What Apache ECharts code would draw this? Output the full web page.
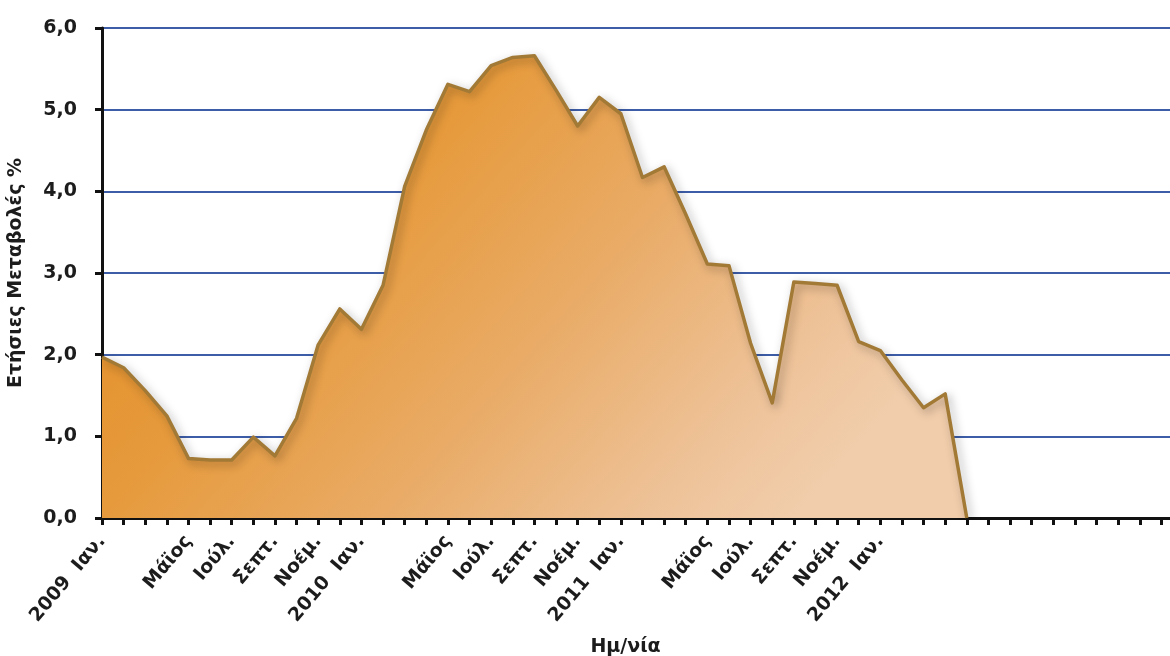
<!DOCTYPE html>
<html>
<head>
<meta charset="utf-8">
<title>Ετήσιες Μεταβολές %</title>
<script src="https://cdn.jsdelivr.net/npm/echarts@6/dist/echarts.min.js"></script>
<style>
  html, body { margin: 0; padding: 0; background: #ffffff; }
  #chart { width: 1170px; height: 656px; }
</style>
</head>
<body>
<div id="chart"></div>
<script>
// Monthly categories, January 2009 onwards
const months = [
  '2009-01','2009-02','2009-03','2009-04','2009-05','2009-06','2009-07','2009-08','2009-09','2009-10','2009-11','2009-12',
  '2010-01','2010-02','2010-03','2010-04','2010-05','2010-06','2010-07','2010-08','2010-09','2010-10','2010-11','2010-12',
  '2011-01','2011-02','2011-03','2011-04','2011-05','2011-06','2011-07','2011-08','2011-09','2011-10','2011-11','2011-12',
  '2012-01','2012-02','2012-03','2012-04','2012-05','2012-06','2012-07','2012-08','2012-09','2012-10','2012-11','2012-12',
  '2013-01','2013-02','2013-03'
];

// Text shown under selected months
const tickLabels = {
  '2009-01': '2009  Ιαν.', '2009-05': 'Μάϊος', '2009-07': 'Ιούλ.', '2009-09': 'Σεπτ.', '2009-11': 'Νοέμ.',
  '2010-01': '2010  Ιαν.', '2010-05': 'Μάϊος', '2010-07': 'Ιούλ.', '2010-09': 'Σεπτ.', '2010-11': 'Νοέμ.',
  '2011-01': '2011  Ιαν.', '2011-05': 'Μάϊος', '2011-07': 'Ιούλ.', '2011-09': 'Σεπτ.', '2011-11': 'Νοέμ.',
  '2012-01': '2012  Ιαν.'
};

// Annual change, %
const annualChange = [
  1.97, 1.84, 1.56, 1.25, 0.73, 0.71, 0.71, 0.99, 0.76, 1.22, 2.12, 2.56,
  2.31, 2.85, 4.06, 4.75, 5.31, 5.22, 5.54, 5.64, 5.66, 5.24, 4.80, 5.15,
  4.95, 4.17, 4.30, 3.72, 3.11, 3.09, 2.14, 1.41, 2.89, 2.87, 2.85, 2.16,
  2.05, 1.69, 1.35, 1.52, 0.00
];

const yTicks = [0, 1, 2, 3, 4, 5, 6];

const FONT = 'DejaVu Sans';
const INK = '#1c1c1c';

const chart = echarts.init(document.getElementById('chart'), null, { renderer: 'canvas' });

chart.setOption({
  backgroundColor: '#ffffff',
  animation: false,
  grid: {
    left: 102,
    top: 28,
    width: 1081,
    height: 490,
    containLabel: false,
    outerBoundsMode: 'none'
  },
  xAxis: {
    type: 'category',
    data: months,
    boundaryGap: false,
    name: 'Ημ/νία',
    nameLocation: 'middle',
    nameGap: 120,
    nameTextStyle: {
      fontFamily: FONT, fontWeight: 'bold', fontSize: 19, color: INK,
      padding: [0, 34, 0, 0]
    },
    axisLine: { show: true, lineStyle: { color: '#111', width: 3 } },
    axisTick: {
      show: true, interval: 0, inside: false, length: 7,
      alignWithLabel: true,
      lineStyle: { color: '#111', width: 3 }
    },
    axisLabel: {
      interval: 0,
      rotate: 50,
      margin: 20,
      fontFamily: FONT, fontWeight: 'bold', fontSize: 19, color: INK,
      formatter: v => tickLabels[v] || ''
    },
    splitLine: { show: false }
  },
  yAxis: {
    type: 'value',
    min: 0,
    max: 6,
    interval: 1,
    name: 'Ετήσιες Μεταβολές %',
    nameLocation: 'middle',
    nameGap: 76,
    nameRotate: 90,
    nameTextStyle: { fontFamily: FONT, fontWeight: 'bold', fontSize: 19, color: INK },
    axisLine: { show: true, lineStyle: { color: '#111', width: 3 } },
    axisTick: { show: true, length: 7, lineStyle: { color: '#111', width: 3 } },
    axisLabel: {
      margin: 25,
      fontFamily: FONT, fontWeight: 'bold', fontSize: 19, color: INK,
      formatter: v => yTicks.includes(v) ? v.toFixed(1).replace('.', ',') : ''
    },
    splitLine: { show: true, lineStyle: { color: '#3d5da8', width: 2 } }
  },
  series: [{
    type: 'line',
    data: annualChange,
    symbol: 'none',
    smooth: false,
    z: 3,
    lineStyle: {
      color: '#a27a36',
      width: 3.5,
      join: 'round',
      shadowColor: 'rgba(0,0,0,0.35)',
      shadowBlur: 10,
      shadowOffsetX: 3,
      shadowOffsetY: 3
    },
    areaStyle: {
      opacity: 1,
      color: new echarts.graphic.LinearGradient(0.2, 0, 0.8, 1, [
        { offset: 0.0, color: '#e4902a' },
        { offset: 0.25, color: '#e69a3c' },
        { offset: 0.55, color: '#e9ab66' },
        { offset: 0.85, color: '#eec39a' },
        { offset: 1.0, color: '#f1cdab' }
      ])
    }
  }]
});
</script>
</body>
</html>
